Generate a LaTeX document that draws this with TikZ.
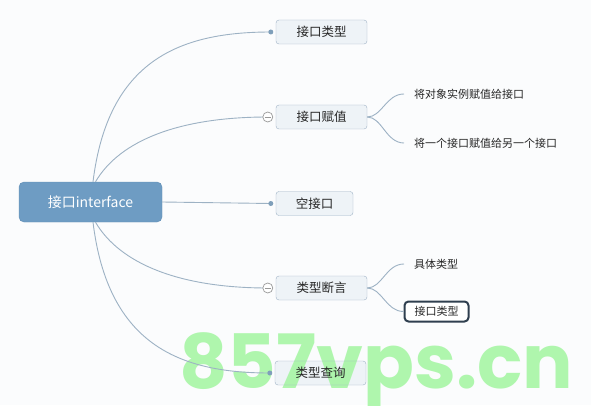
\documentclass[tikz,border=0pt]{standalone}
\usepackage{fontspec}
\setmainfont{Noto Sans CJK SC}
\newfontfamily\wmfont{Poppins}
\usetikzlibrary{positioning}
\definecolor{bg}{HTML}{FBFCFD}
\definecolor{rootfill}{HTML}{6E9CC3}
\definecolor{rootdraw}{HTML}{5F8DB5}
\definecolor{childfill}{HTML}{EEF3F7}
\definecolor{childdraw}{HTML}{9FB3C6}
\definecolor{linkc}{HTML}{9DB2C4}
\definecolor{dotc}{HTML}{7F9FBA}
\definecolor{selc}{HTML}{2F3F4F}
\definecolor{wmgreen}{HTML}{A2F5A0}
\tikzset{
  rootbox/.style={draw=rootdraw, fill=rootfill, rounded corners=5pt, minimum width=143pt, minimum height=40pt, text=white, font=\fontsize{14pt}{16pt}\selectfont, inner sep=0pt},
  childbox/.style={draw=childdraw, fill=childfill, rounded corners=3pt, minimum height=24pt, font=\fontsize{12.5pt}{14pt}\selectfont, inner sep=0pt, text=black!85},
  leaftext/.style={font=\fontsize{11pt}{13pt}\selectfont, inner sep=0pt, anchor=west, text=black!85},
  selbox/.style={draw=selc, line width=2pt, fill=white, rounded corners=4pt, minimum width=64pt, minimum height=20pt, font=\fontsize{11pt}{13pt}\selectfont, inner sep=0pt, text=black!85},
  link/.style={draw=linkc, line width=0.9pt},
  enddot/.style={circle, fill=dotc, inner sep=0pt, minimum size=5pt},
  collapse/.style={circle, draw=gray!80, fill=white, inner sep=0pt, minimum size=10pt, line width=0.7pt},
}
\begin{document}
\begin{tikzpicture}[x=1pt,y=1pt]
\fill[bg] (0,0) rectangle (591,405);
\useasboundingbox (0,0) rectangle (591,405);

% nodes
\node[rootbox] (root) at (90.5,203) {接口interface};
\node[childbox, minimum width=91pt] (c1) at (321.5,373) {接口类型};
\node[childbox, minimum width=91pt] (c2) at (321.5,288) {接口赋值};
\node[childbox, minimum width=77pt] (c3) at (314.5,201.5) {空接口};
\node[childbox, minimum width=91pt] (c4) at (321.5,117) {类型断言};
\fill[childfill, rounded corners=3pt] (275,20) rectangle (366,44);

\node[leaftext] (l1) at (414,311) {将对象实例赋值给接口};
\node[leaftext] (l2) at (414,262) {将一个接口赋值给另一个接口};
\node[leaftext] (l3) at (414,141) {具体类型};
\node[selbox] (l4) at (436.5,93.5) {接口类型};

% watermark
\node[anchor=base west, inner sep=0pt, text=wmgreen, opacity=0.85, font=\wmfont\bfseries\fontsize{75pt}{78pt}\selectfont] (wm) at (179,17) {857vps.cn};
\node[childbox, fill=none, minimum width=91pt] (c5) at (320.5,32) {类型查询};

% connector end coordinates
\coordinate (e1) at ([xshift=-5pt]c1.west);
\coordinate (e2) at ([xshift=-8pt]c2.west);
\coordinate (e3) at ([xshift=-5pt]c3.west);
\coordinate (e4) at ([xshift=-8pt]c4.west);
\coordinate (e5) at ([xshift=-5pt]c5.west);
\coordinate (s1) at ([xshift=2.5pt]root.north);
\coordinate (s2) at ([xshift=5pt]root.north);
\coordinate (s4) at ([xshift=5pt]root.south);
\coordinate (s5) at ([xshift=2.5pt]root.south);
\coordinate (f1) at ([xshift=-10pt]l1.west);
\coordinate (f2) at ([xshift=-10pt]l2.west);
\coordinate (f3) at ([xshift=-10pt]l3.west);

% main branches
\draw[link] (s1) .. controls (108,345) and (180,373) .. (e1);
\draw[link] (s2) .. controls (120,265) and (180,288) .. (e2);
\draw[link] (root.east) -- (e3);
\draw[link] (s4) .. controls (120,141) and (180,117) .. (e4);
\draw[link] (s5) .. controls (108,60) and (180,32) .. (e5);

% sub branches
\draw[link] (c2.east) .. controls (382,288) and (386,311) .. (f1);
\draw[link] (c2.east) .. controls (382,288) and (386,262) .. (f2);
\draw[link] (c4.east) .. controls (382,117) and (386,141) .. (f3);
\draw[link] (c4.east) .. controls (382,117) and (386,93.5) .. (l4.west);

% end markers
\node[enddot] (m1) at (e1) {};
\node[enddot] (m3) at (e3) {};
\node[enddot] (m5) at (e5) {};
\node[collapse] (k2) at (e2) {};
\draw[gray!80, line width=0.7pt] ([xshift=-3pt]k2.center) -- ([xshift=3pt]k2.center);
\node[collapse] (k4) at (e4) {};
\draw[gray!80, line width=0.7pt] ([xshift=-3pt]k4.center) -- ([xshift=3pt]k4.center);
\end{tikzpicture}
\end{document}
